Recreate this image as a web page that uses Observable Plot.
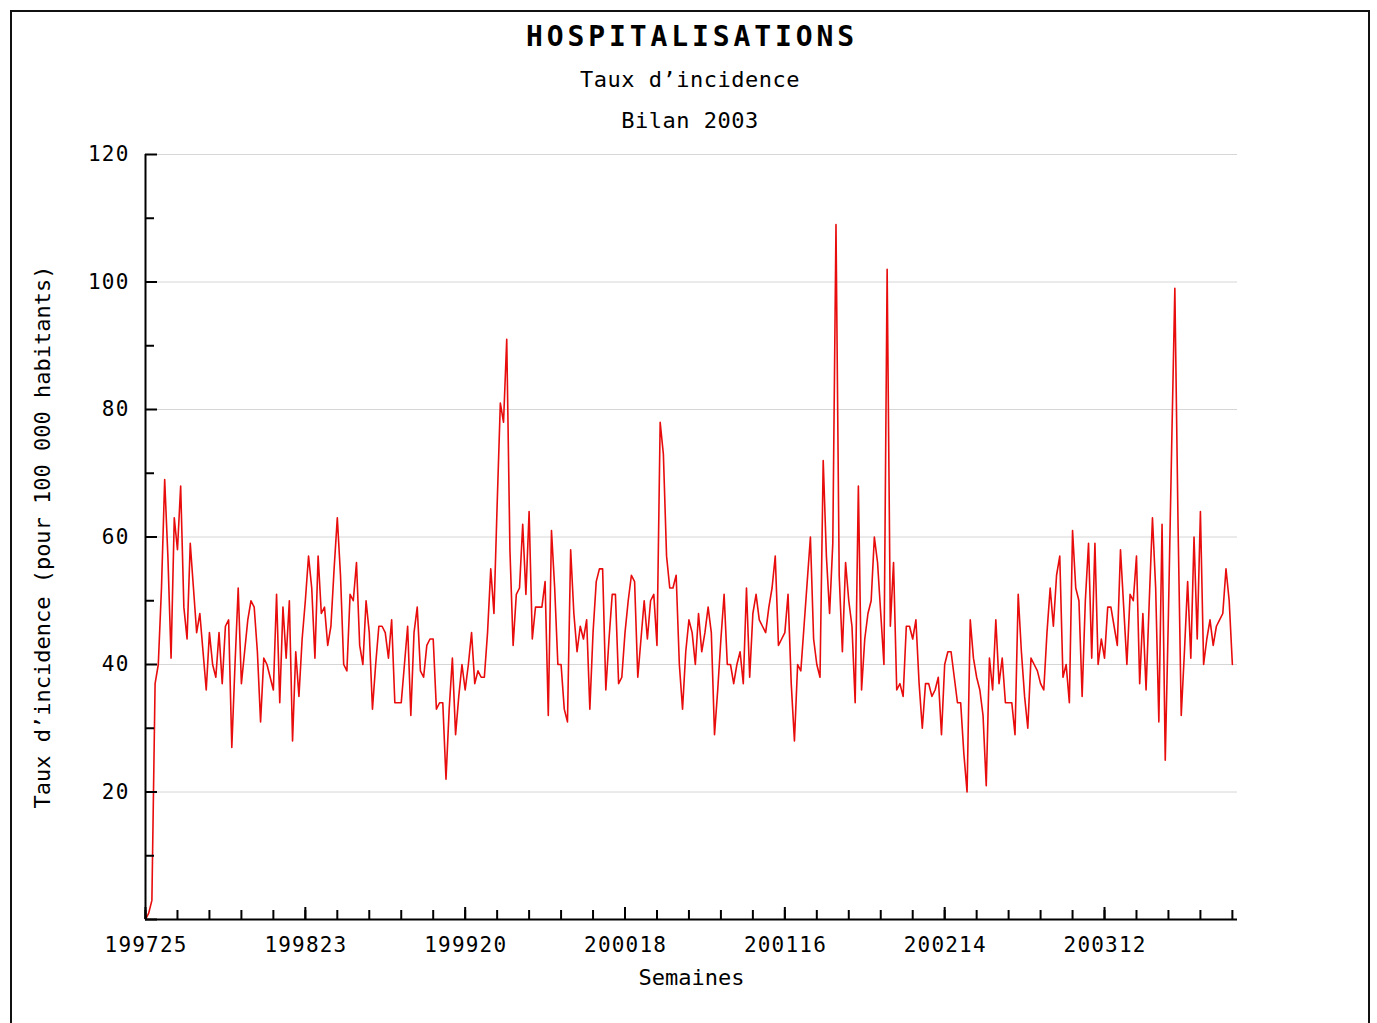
<!DOCTYPE html>
<html><head><meta charset="utf-8">
<script src="https://cdn.jsdelivr.net/npm/d3@7"></script>
<script src="https://cdn.jsdelivr.net/npm/@observablehq/plot@0.6"></script>
<style>
html,body{margin:0;padding:0;background:#fff;}
body{width:1377px;height:1023px;overflow:hidden;position:relative;font-family:"DejaVu Sans Mono",monospace;color:#000;}
#frame{position:absolute;left:10px;top:10px;width:1360px;height:1040px;border:2px solid #111;box-sizing:border-box;}
.t{position:absolute;left:0;text-align:center;white-space:nowrap;color:#000;}
#title{top:17px;width:1384px;font-size:28px;font-weight:bold;letter-spacing:3.9px;line-height:40px;}
#sub1{top:65px;width:1380px;font-size:22px;letter-spacing:0.5px;line-height:30px;}
#sub2{top:106px;width:1380px;font-size:22px;letter-spacing:0.5px;line-height:30px;}
#chart{position:absolute;left:0;top:140px;}
#chart [aria-label="x-axis tick label"] text{letter-spacing:1.2px;}
#chart [aria-label="y-axis tick label"] text{letter-spacing:1.2px;}
</style></head>
<body>
<div id="frame"></div>
<div class="t" id="title">HOSPITALISATIONS</div>
<div class="t" id="sub1">Taux d’incidence</div>
<div class="t" id="sub2">Bilan 2003</div>
<div id="chart"></div>
<script>
// Weekly incidence rate, week index 0 = 199725
const values = [
0,1,3,37,40,52,69,57,41,63,58,68,49,44,59,52,45,48,42,36,
45,40,38,45,37,46,47,27,40,52,37,42,47,50,49,42,31,41,40,38,
36,51,34,49,41,50,28,42,35,44,50,57,52,41,57,48,49,43,46,55,
63,54,40,39,51,50,56,43,40,50,45,33,40,46,46,45,41,47,34,34,
34,40,46,32,45,49,39,38,43,44,44,33,34,34,22,33,41,29,35,40,
36,40,45,37,39,38,38,45,55,48,65,81,78,91,58,43,51,52,62,51,
64,44,49,49,49,53,32,61,52,40,40,33,31,58,48,42,46,44,47,33,
45,53,55,55,36,44,51,51,37,38,45,50,54,53,38,44,50,44,50,51,
43,78,73,57,52,52,54,40,33,42,47,45,40,48,42,45,49,45,29,36,
44,51,40,40,37,40,42,37,52,38,48,51,47,46,45,49,52,57,43,44,
45,51,37,28,40,39,46,53,60,44,40,38,72,57,48,59,109,54,42,56,
50,46,34,68,36,44,48,50,60,56,48,40,102,46,56,36,37,35,46,46,
44,47,37,30,37,37,35,36,38,29,40,42,42,38,34,34,26,20,47,41,
38,36,32,21,41,36,47,37,41,34,34,34,29,51,42,35,30,41,40,39,
37,36,45,52,46,54,57,38,40,34,61,52,50,35,50,59,41,59,40,44,
41,49,49,46,43,58,49,40,51,50,57,37,48,36,50,63,52,31,62,25,
48,74,99,62,32,42,53,41,60,44,64,40,44,47,43,46,47,48,55,50,
40
];
const tickLabels = ["199725","199823","199920","200018","200116","200214","200312"];
const tickWeeks = [0,50,100,150,200,250,300];
const minorWeeks = d3.range(0, values.length, 10);
const yMajor = [0,20,40,60,80,100,120];
const yMinor = [10,30,50,70,90,110];
const yLabel = "Taux d’incidence (pour 100 000 habitants)";
const xLabel = "Semaines";

const data = values.map((v, i) => ({week: i, value: v}));

const W = 1377, H = 859, ML = 145, MR = 140, MT = 14, MB = 80;
const frameW = W - ML - MR, frameH = H - MT - MB;

const chart = Plot.plot({
  width: W, height: H,
  marginLeft: ML, marginRight: MR, marginTop: MT, marginBottom: MB,
  style: {background: "transparent", fontFamily: "DejaVu Sans Mono, monospace", fontSize: "21px", color: "#000", overflow: "visible"},
  x: {domain: [0, 341.6], axis: null},
  y: {domain: [0, 120], axis: null},
  marks: [
    Plot.gridY(yMajor.filter(d => d > 0), {stroke: "#d6d6d6", strokeOpacity: 1, strokeWidth: 1}),
    Plot.lineY(data, {x: "week", y: "value", stroke: "#e80c0c", strokeWidth: 1.6}),
    Plot.ruleX([0], {stroke: "#000", strokeWidth: 2}),
    Plot.ruleY([0], {stroke: "#000", strokeWidth: 2}),
    Plot.tickY(yMajor, {y: d => d, insetRight: frameW - 12, stroke: "#000", strokeWidth: 2}),
    Plot.tickY(yMinor, {y: d => d, insetRight: frameW - 9, stroke: "#000", strokeWidth: 2}),
    Plot.tickX(tickWeeks, {x: d => d, insetTop: frameH - 12, stroke: "#000", strokeWidth: 2}),
    Plot.tickX(minorWeeks, {x: d => d, insetTop: frameH - 9, stroke: "#000", strokeWidth: 2}),
    Plot.axisX(tickWeeks, {tickSize: 0, tickPadding: 18, label: null, fontSize: 21, dx: 0.6,
      tickFormat: d => tickLabels[tickWeeks.indexOf(d)]}),
    Plot.axisY(yMajor.filter(d => d > 0), {tickSize: 0, tickPadding: 16, label: null, fontSize: 21}),
    Plot.text([yLabel], {frameAnchor: "left", dx: -103, rotate: -90, text: d => d, fontSize: 22, textAnchor: "middle", lineAnchor: "middle", fill: "#000"}),
    Plot.text([xLabel], {frameAnchor: "bottom", dy: 58, text: d => d, fontSize: 22, textAnchor: "middle", lineAnchor: "middle", fill: "#000"})
  ]
});
document.getElementById("chart").appendChild(chart);
</script>
</body></html>
